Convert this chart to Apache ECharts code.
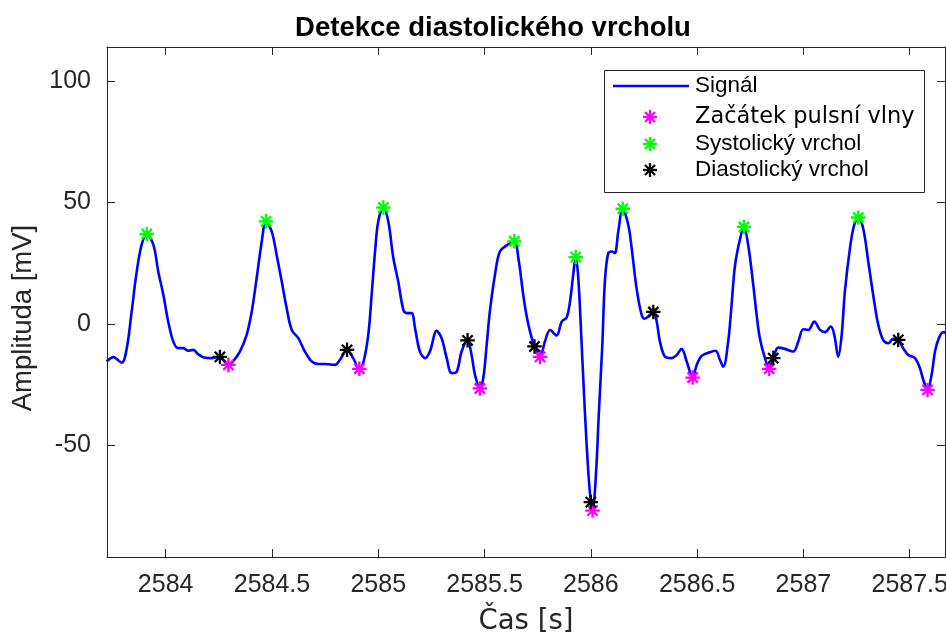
<!DOCTYPE html>
<html>
<head>
<meta charset="utf-8">
<script src="https://cdn.jsdelivr.net/npm/echarts@6/dist/echarts.min.js"></script>
<style>html,body{margin:0;padding:0;background:#fff}#c{width:946px;height:632px}</style>
</head>
<body>
<div id="c"></div>
<script>
// ---- data (time in s, amplitude in mV) ----
const signalTime = [
2583.7225,2583.754,2583.793,2583.817,2583.840,2583.864,2583.887,2583.911,2583.942,2583.965,
2583.989,2584.012,2584.036,2584.059,2584.083,2584.106,2584.130,2584.153,2584.177,2584.216,
2584.255,2584.295,2584.318,2584.349,2584.381,2584.405,2584.428,2584.452,2584.472,2584.499,
2584.522,2584.546,2584.569,2584.593,2584.624,2584.655,2584.687,2584.718,2584.749,2584.796,
2584.820,2584.853,2584.882,2584.911,2584.929,2584.953,2584.969,2584.985,2585.000,2585.024,
2585.047,2585.071,2585.094,2585.118,2585.134,2585.157,2585.173,2585.196,2585.220,2585.243,
2585.275,2585.298,2585.322,2585.345,2585.369,2585.392,2585.420,2585.439,2585.455,2585.478,
2585.494,2585.510,2585.525,2585.549,2585.572,2585.604,2585.640,2585.659,2585.682,2585.697,
2585.714,2585.735,2585.761,2585.784,2585.808,2585.839,2585.863,2585.886,2585.902,2585.917,
2585.929,2585.941,2585.957,2585.972,2585.988,2586.000,2586.008,2586.023,2586.038,2586.054,
2586.066,2586.082,2586.101,2586.113,2586.129,2586.150,2586.176,2586.192,2586.215,2586.239,
2586.254,2586.278,2586.294,2586.310,2586.325,2586.349,2586.380,2586.404,2586.427,2586.451,
2586.479,2586.498,2586.521,2586.560,2586.587,2586.607,2586.623,2586.646,2586.662,2586.678,
2586.701,2586.720,2586.740,2586.764,2586.780,2586.795,2586.819,2586.839,2586.858,2586.882,
2586.913,2586.952,2586.976,2586.999,2587.023,2587.051,2587.078,2587.101,2587.129,2587.145,
2587.164,2587.180,2587.195,2587.219,2587.239,2587.258,2587.281,2587.305,2587.328,2587.352,
2587.375,2587.399,2587.422,2587.446,2587.469,2587.493,2587.525,2587.548,2587.564,2587.584,
2587.603,2587.619,2587.637,2587.658,2587.670
];
const signalValue = [
-15.5,-13.7,-16.0,-10.0,5.1,21.6,32.6,37.0,32.6,21.6,
12.0,0.9,-7.3,-10.0,-10.0,-11.1,-10.7,-12.5,-13.7,-14.1,
-13.6,-16.9,-15.3,-11.4,-4.5,5.1,18.8,33.9,42.2,38.0,
28.4,17.4,6.5,-2.5,-5.9,-11.4,-15.5,-16.5,-16.5,-16.9,
-14.8,-10.7,-14.1,-18.5,-16.2,-4.5,12.0,29.8,42.2,47.9,
42.2,27.1,17.4,5.8,4.4,4.4,-1.8,-11.4,-14.1,-11.4,
-2.9,-5.9,-14.1,-20.3,-19.7,-11.4,-6.8,-12.8,-21.0,-26.6,
-22.4,-8.7,5.1,20.2,29.8,32.3,34.0,27.1,12.0,3.7,
-3.2,-9.3,-13.6,-7.3,-2.5,-4.8,0.9,2.6,9.2,20.2,
27.5,18.8,-8.7,-36.2,-60.9,-73.4,-76.9,-63.6,-36.2,-8.7,
17.4,29.1,29.8,29.1,38.0,47.4,40.8,31.2,14.7,3.7,
2.1,3.7,4.9,0.9,-7.3,-13.5,-14.1,-12.8,-10.3,-15.5,
-22.1,-16.9,-13.2,-11.7,-11.1,-14.8,-17.6,-7.3,7.8,23.9,
34.6,39.9,32.6,16.1,3.7,-5.9,-14.1,-18.5,-14.1,-9.8,
-10.3,-11.4,-7.3,-2.2,-2.5,0.9,-2.5,-3.4,-1.1,-4.5,
-13.5,-4.5,13.3,31.2,40.8,43.8,39.4,25.7,12.0,-0.4,
-6.6,-8.0,-6.2,-6.6,-10.0,-12.8,-14.1,-18.3,-23.1,-27.2,
-21.0,-11.4,-5.9,-3.4,-3.8
];
const onsetTime = [2584.295,2584.911,2585.478,2585.761,2586.008,2586.479,2586.839,2587.584];
const onsetValue = [-16.9,-18.5,-26.6,-13.6,-76.9,-22.1,-18.5,-27.2];
const systolicTime = [2583.911,2584.472,2585.024,2585.640,2585.929,2586.150,2586.720,2587.258];
const systolicValue = [37.0,42.2,47.9,34.0,27.5,47.4,39.9,43.8];
const diastolicTime = [2584.255,2584.853,2585.420,2585.735,2586.000,2586.294,2586.858,2587.446];
const diastolicValue = [-13.6,-10.7,-6.8,-9.3,-73.4,4.9,-14.1,-6.6];
const xTicks = [2584,2584.5,2585,2585.5,2586,2586.5,2587,2587.5];
const yTicks = [-50,0,50,100];
const seriesNames = ['Signál','Začátek pulsní vlny','Systolický vrchol','Diastolický vrchol'];
const titleText = 'Detekce diastolického vrcholu';
const xLabel = 'Čas [s]';
const yLabel = 'Amplituda [mV]';

// ---- chart ----
const zip = (a, b) => a.map((v, i) => [v, b[i]]);
const AX = '#262626';
const STAR = 'path://M0,-10L0,10M-10,0L10,0M-7.07,-7.07L7.07,7.07M-7.07,7.07L7.07,-7.07';
const LF = 'Liberation Sans, Arial, Helvetica, sans-serif';
const DF = 'DejaVu Sans, sans-serif';

function starSeries(name, t, v, color) {
  return {
    name, type: 'scatter', data: zip(t, v), symbol: STAR, symbolSize: 14.5,
    itemStyle: { color: color, borderColor: color, borderWidth: 2.3, opacity: 1 },
    emphasis: { disabled: true }, silent: true, z: 5
  };
}

const xMin = 2583.724, xMax = 2587.666, yMin = -96, yMax = 114;
const chart = echarts.init(document.getElementById('c'), null, { renderer: 'canvas' });

// legend drawn as graphic
const legendItems = [];
legendItems.push({ type: 'rect', shape: { x: 604.5, y: 70.5, width: 320, height: 122 },
  style: { fill: '#fff', stroke: AX, lineWidth: 1 }, z: 100 });
legendItems.push({ type: 'line', shape: { x1: 613, y1: 86, x2: 689, y2: 86 },
  style: { stroke: '#0000ff', lineWidth: 2.5 }, z: 101 });
const legColors = ['#ff00ff', '#00ff00', '#000000'];
const legY = [86, 117, 144, 170];
for (let k = 0; k < 3; k++) {
  const cx = 650, cy = legY[k + 1], r = 7, d = 5;
  [[-r, 0, r, 0], [0, -r, 0, r], [-d, -d, d, d], [-d, d, d, -d]].forEach(s => {
    legendItems.push({ type: 'line', shape: { x1: cx + s[0], y1: cy + s[1], x2: cx + s[2], y2: cy + s[3] },
      style: { stroke: legColors[k], lineWidth: 2.3 }, z: 101 });
  });
}
seriesNames.forEach((n, i) => {
  legendItems.push({ type: 'text', x: 695, y: legY[i],
    style: { text: n, fill: '#000', font: '22.5px ' + (i === 1 ? DF : LF), textVerticalAlign: 'middle', verticalAlign: 'middle' }, z: 101 });
});

const option = {
  animation: false,
  backgroundColor: '#fff',
  title: {
    text: titleText, left: 488, top: 9, textAlign: 'center',
    textStyle: { fontFamily: LF, fontWeight: 'bold', fontSize: 27.5, color: '#000' }
  },
  grid: { left: 107, right: 1, top: 47, bottom: 75, containLabel: false, outerBoundsMode: 'none' },
  xAxis: [{
    type: 'value', min: xMin, max: xMax, position: 'bottom',
    name: xLabel, nameLocation: 'middle', nameGap: 51,
    nameTextStyle: { fontFamily: DF, fontSize: 27.5, color: '#262626' },
    axisLine: { show: true, onZero: false, lineStyle: { color: AX, width: 1 } },
    axisTick: { show: true, inside: true, length: 8, customValues: xTicks, lineStyle: { color: AX } },
    axisLabel: { show: true, customValues: xTicks, margin: 16, fontFamily: LF, fontSize: 25, color: '#262626',
      formatter: v => String(v) },
    splitLine: { show: false }
  }, {
    type: 'value', min: xMin, max: xMax, position: 'top',
    axisLine: { show: true, onZero: false, lineStyle: { color: AX, width: 1 } },
    axisTick: { show: true, inside: true, length: 8, customValues: xTicks, lineStyle: { color: AX } },
    axisLabel: { show: false }, splitLine: { show: false }
  }],
  yAxis: [{
    type: 'value', min: yMin, max: yMax, position: 'left',
    name: yLabel, nameLocation: 'middle', nameGap: 70,
    nameTextStyle: { fontFamily: LF, fontSize: 27.5, color: '#262626', padding: [0, 32, 0, 0] },
    axisLine: { show: true, onZero: false, lineStyle: { color: AX, width: 1 } },
    axisTick: { show: true, inside: true, length: 8, customValues: yTicks, lineStyle: { color: AX } },
    axisLabel: { show: true, customValues: yTicks, margin: 16, fontFamily: LF, fontSize: 25, color: '#262626' },
    splitLine: { show: false }
  }, {
    type: 'value', min: yMin, max: yMax, position: 'right',
    axisLine: { show: true, onZero: false, lineStyle: { color: AX, width: 1 } },
    axisTick: { show: true, inside: true, length: 8, customValues: yTicks, lineStyle: { color: AX } },
    axisLabel: { show: false }, splitLine: { show: false }
  }],
  series: [
    {
      name: seriesNames[0], type: 'line', data: zip(signalTime, signalValue),
      showSymbol: false, symbol: 'none', smooth: 0.35,
      lineStyle: { color: '#0000ff', width: 2.6 }, emphasis: { disabled: true }, silent: true, z: 3
    },
    starSeries(seriesNames[1], onsetTime, onsetValue, '#ff00ff'),
    starSeries(seriesNames[2], systolicTime, systolicValue, '#00ff00'),
    starSeries(seriesNames[3], diastolicTime, diastolicValue, '#000000')
  ],
  graphic: legendItems
};
chart.setOption(option);
</script>
</body>
</html>
